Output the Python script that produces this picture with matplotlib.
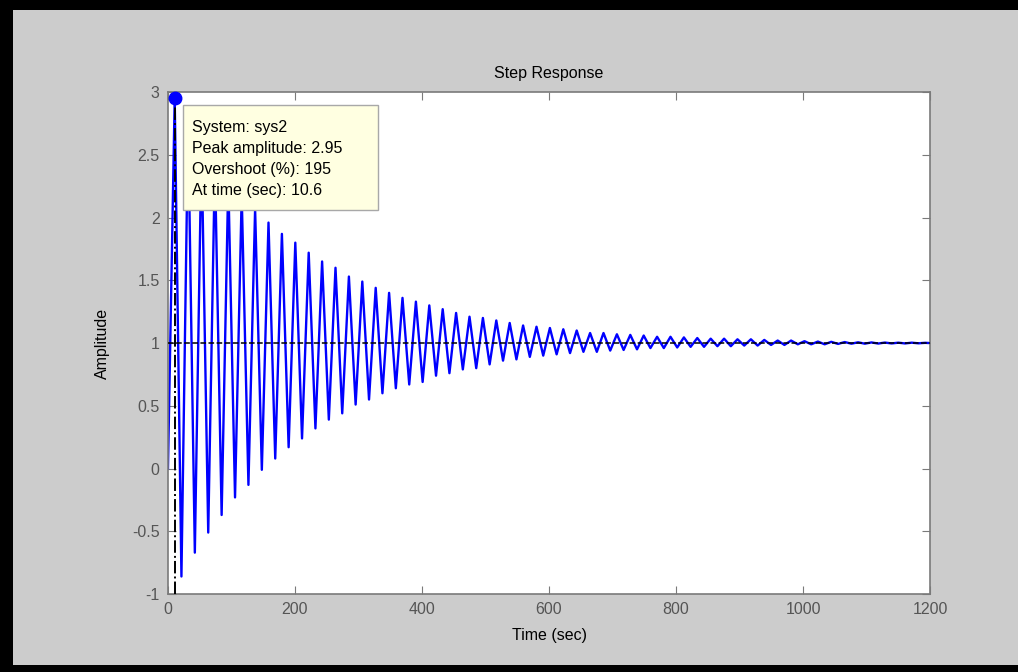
import numpy as np
import matplotlib
matplotlib.use('Agg')
import matplotlib.pyplot as plt
from matplotlib.patches import Rectangle

plt.rcParams['font.family'] = ['Liberation Sans', 'DejaVu Sans']

# step response: start / end points, then peaks and troughs
start_t, start_y = 0.0, 0.0
end_t, end_y = 1200.0, 1.0

peak_t = [10.6, 31.7, 52.8, 73.9, 95.0, 116.1, 137.2, 158.3, 179.4, 200.5,
          221.6, 242.7, 263.8, 284.9, 306.0, 327.1, 348.2, 369.3, 390.4, 411.5,
          432.6, 453.7, 474.8, 495.9, 517.0, 538.1, 559.2, 580.3, 601.4, 622.5,
          643.6, 664.7, 685.8, 706.9, 728.0, 749.1, 770.2, 791.3, 812.4, 833.5,
          854.6, 875.7, 896.8, 917.9, 939.0, 960.1, 981.2, 1002.3, 1023.4, 1044.5,
          1065.6, 1086.7, 1107.8, 1128.9, 1150.0, 1171.1, 1192.2]
peak_y = [2.95, 2.76, 2.58, 2.44, 2.30, 2.18, 2.07, 1.96, 1.87, 1.80,
          1.72, 1.65, 1.60, 1.53, 1.49, 1.44, 1.40, 1.36, 1.33, 1.30,
          1.27, 1.24, 1.21, 1.20, 1.18, 1.16, 1.14, 1.13, 1.12, 1.11,
          1.10, 1.08, 1.08, 1.07, 1.065, 1.06, 1.05, 1.05, 1.045, 1.04,
          1.035, 1.035, 1.03, 1.03, 1.025, 1.02, 1.02, 1.015, 1.012, 1.01,
          1.008, 1.006, 1.005, 1.004, 1.003, 1.003, 1.002]

trough_t = [21.2, 42.3, 63.4, 84.5, 105.6, 126.7, 147.8, 168.9, 190.0, 211.1,
            232.2, 253.3, 274.4, 295.5, 316.6, 337.7, 358.8, 379.9, 401.0, 422.1,
            443.2, 464.3, 485.4, 506.5, 527.6, 548.7, 569.8, 590.9, 612.0, 633.1,
            654.2, 675.3, 696.4, 717.5, 738.6, 759.7, 780.8, 801.9, 823.0, 844.1,
            865.2, 886.3, 907.4, 928.5, 949.6, 970.7, 991.8, 1012.9, 1034.0, 1055.1,
            1076.2, 1097.3, 1118.4, 1139.5, 1160.6, 1181.7]
trough_y = [-0.86, -0.67, -0.51, -0.37, -0.23, -0.13, -0.01, 0.08, 0.17, 0.24,
            0.32, 0.39, 0.44, 0.51, 0.55, 0.60, 0.64, 0.67, 0.69, 0.74,
            0.76, 0.79, 0.80, 0.83, 0.86, 0.87, 0.89, 0.90, 0.91, 0.92,
            0.93, 0.93, 0.94, 0.945, 0.95, 0.96, 0.96, 0.965, 0.97, 0.97,
            0.975, 0.975, 0.98, 0.98, 0.985, 0.985, 0.99, 0.99, 0.99, 0.993,
            0.995, 0.995, 0.996, 0.997, 0.997, 0.998]

steady_value = 1.0
peak_time = 10.6
peak_amp = 2.95

x_ticks = [0, 200, 400, 600, 800, 1000, 1200]
y_ticks = [-1, -0.5, 0, 0.5, 1, 1.5, 2, 2.5, 3]
y_labels = ['-1', '-0.5', '0', '0.5', '1', '1.5', '2', '2.5', '3']

tip_lines = ['System: sys2', 'Peak amplitude: 2.95',
             'Overshoot (%): 195', 'At time (sec): 10.6']

# merge extrema in time order
t = np.array([start_t] + peak_t + trough_t + [end_t])
y = np.array([start_y] + peak_y + trough_y + [end_y])
order = np.argsort(t)
t, y = t[order], y[order]

fig = plt.figure(figsize=(10.18, 6.72), dpi=100)
fig.patch.set_facecolor('#cccccc')
ax = fig.add_axes([0.165, 0.116, 0.7486, 0.747])

ax.plot(t, y, color='#0000ff', lw=1.7, zorder=2)
ax.axhline(steady_value, color='black', ls='--', lw=1.1, zorder=3)
ax.plot([peak_time, peak_time], [-1, peak_amp], color='black', ls='-.', lw=1.4, zorder=3)
ax.plot([peak_time], [peak_amp], 'o', color='#0000ff', ms=9, clip_on=False, zorder=5)

ax.set_xlim(0, 1200)
ax.set_ylim(-1, 3)
ax.set_xticks(x_ticks)
ax.set_yticks(y_ticks)
ax.set_yticklabels(y_labels)
ax.tick_params(direction='in', length=6, top=True, right=True,
               labelsize=11.5, colors='#7a7a7a', labelcolor='#555555', pad=6)
for s in ax.spines.values():
    s.set_color('#7a7a7a')
    s.set_linewidth(1.2)

ax.set_title('Step Response', fontsize=11.5, pad=10)
ax.set_xlabel('Time (sec)', fontsize=11.5, labelpad=8)
ax.set_ylabel('Amplitude', fontsize=11.5, labelpad=16)

# data tip box
ax.add_patch(Rectangle((0.0197, 0.765), 0.256, 0.209, transform=ax.transAxes,
                       facecolor='#ffffe1', edgecolor='#a8a8a8', lw=1, zorder=6))
for i, line in enumerate(tip_lines):
    ax.text(0.0315, 0.930 - i * 0.042, line, transform=ax.transAxes,
            fontsize=11.5, va='center', ha='left', zorder=7)

# black frame of the screenshot
fig.patches.append(Rectangle((0, 0), 13 / 1018, 1, transform=fig.transFigure,
                             facecolor='black', edgecolor='none'))
fig.patches.append(Rectangle((0, 1 - 10 / 672), 1, 10 / 672, transform=fig.transFigure,
                             facecolor='black', edgecolor='none'))
fig.patches.append(Rectangle((0, 0), 1, 7 / 672, transform=fig.transFigure,
                             facecolor='black', edgecolor='none'))

fig.savefig('out.png', dpi=100, facecolor=fig.get_facecolor())
